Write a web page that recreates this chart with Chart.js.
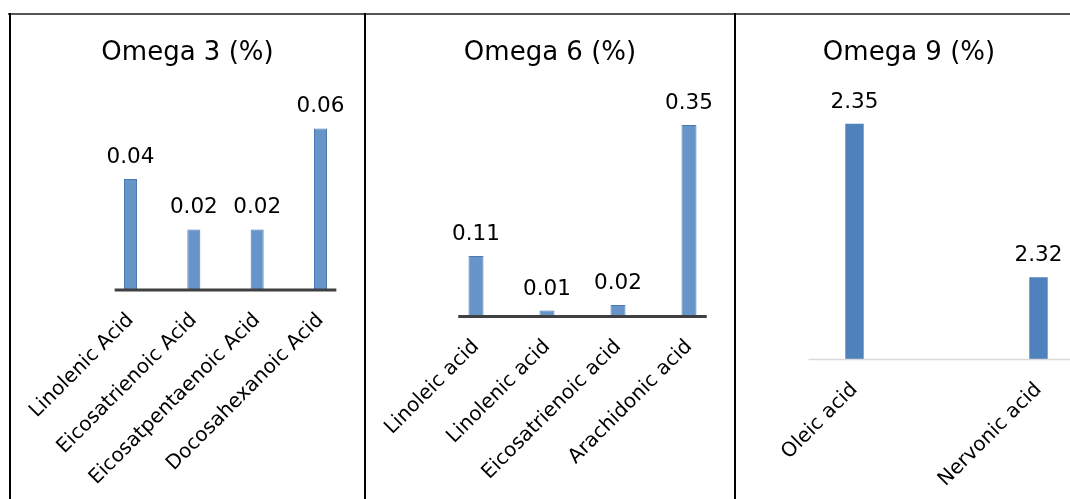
<!DOCTYPE html>
<html>
<head>
<meta charset="utf-8">
<script src="https://cdn.jsdelivr.net/npm/chart.js@4.4.1/dist/chart.umd.min.js"></script>
<style>
  html, body { margin: 0; padding: 0; background: #fff; overflow: hidden; width: 1070px; height: 499px; }
  .rule { position: absolute; background: #000; }
  .panel { position: absolute; top: 15px; height: 484px; }
  .panel canvas { display: block; }
</style>
</head>
<body>
<div class="rule" style="left:8px;top:13px;width:1062px;height:2px;background:#555;"></div>
<div class="rule" style="left:9px;top:13px;width:2px;height:486px;"></div>
<div class="rule" style="left:364px;top:13px;width:2px;height:486px;"></div>
<div class="rule" style="left:734px;top:13px;width:2px;height:486px;"></div>

<div class="panel" style="left:11px;width:353px;"><canvas id="omega3" width="353" height="484"></canvas></div>
<div class="panel" style="left:366px;width:368px;"><canvas id="omega6" width="368" height="484"></canvas></div>
<div class="panel" style="left:736px;width:346px;"><canvas id="omega9" width="346" height="484"></canvas></div>

<script>
// Fatty acid composition, one panel per omega family
const omega3Acids = ['Linolenic Acid', 'Eicosatrienoic Acid', 'Eicosatpentaenoic Acid', 'Docosahexanoic Acid'];
const omega3Values = [0.04, 0.02, 0.02, 0.06];

const omega6Acids = ['Linoleic acid', 'Linolenic acid', 'Eicosatrienoic acid', 'Arachidonic acid'];
const omega6Values = [0.11, 0.01, 0.02, 0.35];

const omega9Acids = ['Oleic acid', 'Nervonic acid'];
const omega9Values = [2.35, 2.32];

const FONT = "'DejaVu Sans', Verdana, sans-serif";

// Value printed above every bar
const barValueLabels = {
  id: 'barValueLabels',
  afterDatasetsDraw(chart) {
    const ctx = chart.ctx;
    ctx.save();
    ctx.font = '21.5px ' + FONT;
    ctx.fillStyle = '#000';
    ctx.textAlign = 'center';
    ctx.textBaseline = 'alphabetic';
    chart.data.datasets.forEach((ds, di) => {
      chart.getDatasetMeta(di).data.forEach((bar, i) => {
        ctx.fillText(ds.data[i].toFixed(2), bar.x, bar.y - 16);
      });
    });
    ctx.restore();
  }
};

// Horizontal category axis line, running a quarter step past the outer bars
const baseLine = {
  id: 'baseLine',
  afterDatasetsDraw(chart, args, opts) {
    const x = chart.scales.x;
    const n = chart.data.labels.length;
    const first = x.getPixelForValue(0);
    const last = x.getPixelForValue(n - 1);
    const step = (last - first) / (n - 1);
    const ctx = chart.ctx;
    ctx.save();
    ctx.fillStyle = opts.color;
    ctx.fillRect(first - step * 0.25, chart.chartArea.bottom + 0.5 - opts.width / 2,
                 (last - first) + step * 0.5, opts.width);
    ctx.restore();
  }
};

function panelChart(id, title, labels, values, style) {
  return new Chart(document.getElementById(id), {
    type: 'bar',
    data: {
      labels: labels,
      datasets: [{
        data: values,
        backgroundColor: style.fill,
        borderColor: style.border,
        borderWidth: style.borderWidth,
        barPercentage: style.barPct,
        categoryPercentage: 1,
        base: style.yMin,
        clip: false
      }]
    },
    options: {
      responsive: false,
      animation: false,
      layout: { padding: { left: style.side, right: style.side, top: 0, bottom: 0 } },
      plugins: {
        legend: { display: false },
        tooltip: { enabled: false },
        title: {
          display: true,
          text: title,
          color: '#000',
          font: { family: FONT, size: 26, weight: 'normal', lineHeight: 1.2 },
          padding: { top: 23, bottom: 34 }
        },
        baseLine: { color: style.axisColor, width: style.axisWidth }
      },
      scales: {
        x: {
          offset: false,
          grid: { display: false, drawTicks: false },
          border: { display: false },
          ticks: {
            color: '#000',
            font: { family: FONT, size: 20 },
            minRotation: 45,
            maxRotation: 45,
            autoSkip: false,
            padding: 19
          },
          afterFit(scale) { scale.height = style.xAxisHeight; }
        },
        y: {
          min: style.yMin,
          max: style.yMax,
          grid: { display: false, drawTicks: false },
          border: { display: false },
          ticks: { display: false },
          afterFit(scale) { scale.width = style.yAxisWidth; }
        }
      }
    },
    plugins: [barValueLabels, baseLine]
  });
}

panelChart('omega3', 'Omega 3 (%)', omega3Acids, omega3Values, {
  fill: '#6794c9', border: '#4a78b0', borderWidth: 1, barPct: 0.205,
  yMin: -0.0038, yMax: 0.07, side: 43.5, yAxisWidth: 76, xAxisHeight: 209.5,
  axisColor: '#404040', axisWidth: 3
});

panelChart('omega6', 'Omega 6 (%)', omega6Acids, omega6Values, {
  fill: '#6794c9', border: '#4a78b0', borderWidth: 1, barPct: 0.211,
  yMin: 0, yMax: 0.39, side: 45, yAxisWidth: 65, xAxisHeight: 183,
  axisColor: '#404040', axisWidth: 3
});

panelChart('omega9', 'Omega 9 (%)', omega9Acids, omega9Values, {
  fill: '#4f81bd', border: '#4f81bd', borderWidth: 0, barPct: 0.10,
  yMin: 2.304, yMax: 2.354, side: 43.5, yAxisWidth: 75, xAxisHeight: 140,
  axisColor: '#d9d9d9', axisWidth: 1.5
});
</script>
</body>
</html>
